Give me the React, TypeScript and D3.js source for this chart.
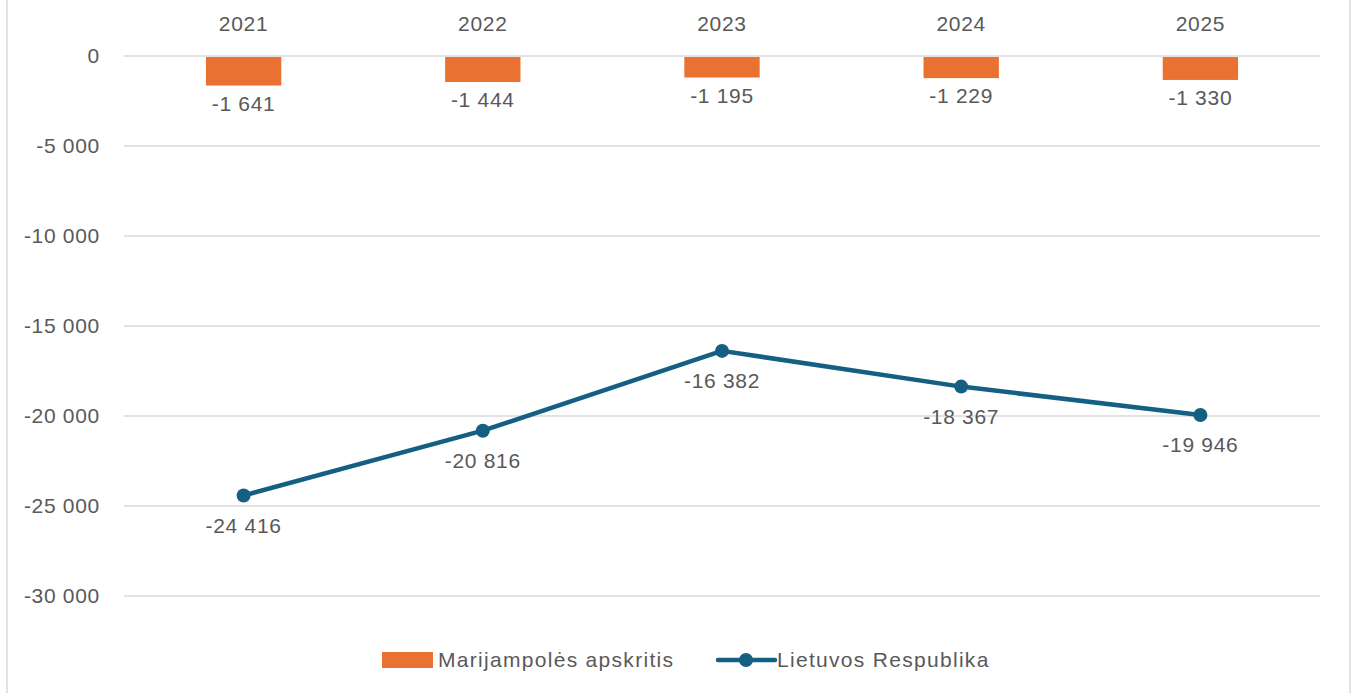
import React from "react";
import * as d3 from "d3";

const categories = ["2021", "2022", "2023", "2024", "2025"];
const marijampole = [-1641, -1444, -1195, -1229, -1330];
const lietuva = [-24416, -20816, -16382, -18367, -19946];
const yTicks = [0, -5000, -10000, -15000, -20000, -25000, -30000];
const seriesNames = ["Marijampolės apskritis", "Lietuvos Respublika"];

const W = 1352;
const H = 693;
const ORANGE = "#E97132";
const BLUE = "#156082";
const TEXT = "#595959";
const FONT = "'Liberation Sans', Arial, sans-serif";
const FS = 21;
const LS = 0.7;

const fmt = (v: number) => {
  const s = Math.abs(v).toString().replace(/\B(?=(\d{3})+(?!\d))/g, " ");
  return (v < 0 ? "-" : "") + s;
};

export default function App() {
  const x = d3.scaleBand<string>().domain(categories).range([124, 1320]).paddingInner(0.0).paddingOuter(0);
  const y = d3.scaleLinear().domain([0, -30000]).range([56, 596]);
  const bw = x.bandwidth() * 0.315;
  const cx = (c: string) => (x(c) as number) + x.bandwidth() / 2;
  const line = d3
    .line<number>()
    .x((_, i) => cx(categories[i]))
    .y((d) => y(d));

  return (
    <svg width={W} height={H} style={{ position: "absolute", left: 0, top: 0, fontFamily: FONT }}>
      <rect x={0} y={0} width={W} height={H} fill="#fff" />
      <rect x={7} y={-10} width={1343} height={H + 20} fill="none" stroke="#d9d9d9" strokeWidth={1.5} />
      {yTicks.map((t) => (
        <g key={t}>
          <line x1={124} x2={1320} y1={y(t)} y2={y(t)} stroke="#d9d9d9" strokeWidth={1.5} />
          <text x={100} y={y(t)} dy="0.35em" textAnchor="end" fontSize={FS} letterSpacing={LS} fill={TEXT}>
            {fmt(t)}
          </text>
        </g>
      ))}
      {categories.map((c) => (
        <text key={c} x={cx(c)} y={24} dy="0.35em" textAnchor="middle" fontSize={FS} letterSpacing={LS} fill={TEXT}>
          {c}
        </text>
      ))}
      {marijampole.map((v, i) => (
        <g key={"b" + i}>
          <rect x={cx(categories[i]) - bw / 2} y={y(0) + 1} width={bw} height={y(v) - y(0) - 1} fill={ORANGE} />
          <text x={cx(categories[i])} y={y(v) + 18} dy="0.35em" textAnchor="middle" fontSize={FS} letterSpacing={LS} fill={TEXT}>
            {fmt(v)}
          </text>
        </g>
      ))}
      <path d={line(lietuva) || ""} fill="none" stroke={BLUE} strokeWidth={4.5} strokeLinejoin="round" />
      {lietuva.map((v, i) => (
        <g key={"p" + i}>
          <circle cx={cx(categories[i])} cy={y(v)} r={7} fill={BLUE} />
          <text x={cx(categories[i])} y={y(v) + 30} dy="0.35em" textAnchor="middle" fontSize={FS} letterSpacing={LS} fill={TEXT}>
            {fmt(v)}
          </text>
        </g>
      ))}
      <g>
        <rect x={382} y={652} width={51} height={16} fill={ORANGE} />
        <text x={438} y={660} dy="0.35em" fontSize={21} letterSpacing={1.3} fill={TEXT}>
          {seriesNames[0]}
        </text>
        <line x1={718} x2={775} y1={660} y2={660} stroke={BLUE} strokeWidth={4.5} strokeLinecap="round" />
        <circle cx={746} cy={660} r={7} fill={BLUE} />
        <text x={777} y={660} dy="0.35em" fontSize={21} letterSpacing={1.3} fill={TEXT}>
          {seriesNames[1]}
        </text>
      </g>
    </svg>
  );
}
